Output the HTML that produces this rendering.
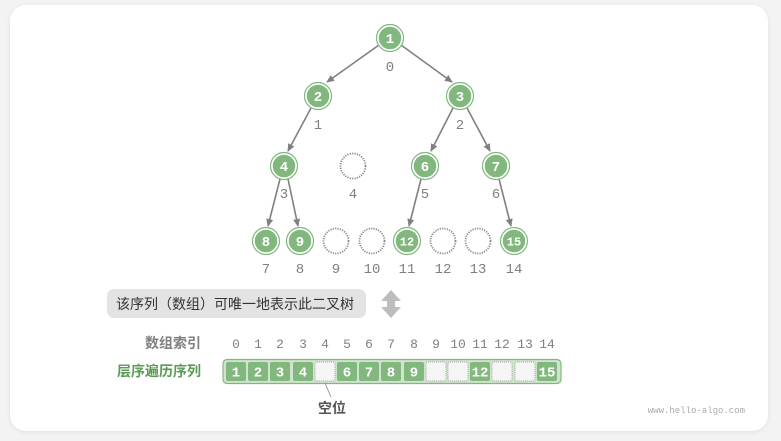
<!DOCTYPE html>
<html><head><meta charset="utf-8"><style>
html,body{margin:0;padding:0;background:#f3f3f3;}
svg{display:block;}
text{font-family:"Liberation Mono","DejaVu Sans Mono",monospace;}
.cj{font-family:"Liberation Sans","Noto Sans CJK SC",sans-serif;}
</style></head><body>
<svg width="781" height="441" viewBox="0 0 781 441" xmlns="http://www.w3.org/2000/svg">
<defs>
<marker id="ah" markerWidth="8" markerHeight="8" refX="7" refY="4" orient="auto" markerUnits="userSpaceOnUse">
<path d="M0,0.5 L8,4 L0,7.5 Z" fill="#808080"/></marker>
<filter id="sh" x="-5%" y="-5%" width="110%" height="110%"><feDropShadow dx="0" dy="1" stdDeviation="2" flood-color="#000" flood-opacity="0.08"/></filter>
</defs>
<rect x="10" y="5" width="758" height="426" rx="16" fill="#fff" filter="url(#sh)"/>
<g stroke="#808080" stroke-width="1.6" fill="none" marker-end="url(#ah)">
<line x1="379" y1="45" x2="327" y2="82"/>
<line x1="401" y1="45" x2="452" y2="82"/>
<line x1="311" y1="108" x2="288" y2="151"/>
<line x1="453" y1="108" x2="431" y2="151"/>
<line x1="467" y1="108" x2="490" y2="151"/>
<line x1="280" y1="179" x2="268" y2="226"/>
<line x1="288" y1="179" x2="298" y2="226"/>
<line x1="421" y1="179" x2="409" y2="226"/>
<line x1="499" y1="179" x2="511" y2="226"/>
</g>
<g fill="#82b87e" stroke="#fff" stroke-width="1.5">
<circle cx="390" cy="38" r="12"/><circle cx="318" cy="96" r="12"/><circle cx="460" cy="96" r="12"/>
<circle cx="284" cy="166" r="12"/><circle cx="425" cy="166" r="12"/><circle cx="496" cy="166" r="12"/>
<circle cx="266" cy="241" r="12"/><circle cx="300" cy="241" r="12"/><circle cx="407" cy="241" r="12"/><circle cx="514" cy="241" r="12"/>
</g>
<g fill="none" stroke="#82b87e" stroke-width="1.2">
<circle cx="390" cy="38" r="13.5"/><circle cx="318" cy="96" r="13.5"/><circle cx="460" cy="96" r="13.5"/>
<circle cx="284" cy="166" r="13.5"/><circle cx="425" cy="166" r="13.5"/><circle cx="496" cy="166" r="13.5"/>
<circle cx="266" cy="241" r="13.5"/><circle cx="300" cy="241" r="13.5"/><circle cx="407" cy="241" r="13.5"/><circle cx="514" cy="241" r="13.5"/>
</g>
<g fill="none" stroke="#888" stroke-width="1.8" stroke-dasharray="1.2 1.2">
<circle cx="353" cy="166" r="12.5"/><circle cx="336" cy="241" r="12.5"/><circle cx="372" cy="241" r="12.5"/><circle cx="443" cy="241" r="12.5"/><circle cx="478" cy="241" r="12.5"/>
</g>
<g font-family="Liberation Sans,sans-serif" font-size="14" font-weight="bold" fill="#fff" text-anchor="middle">
<text x="390" y="43">1</text><text x="318" y="101">2</text><text x="460" y="101">3</text>
<text x="284" y="171">4</text><text x="425" y="171">6</text><text x="496" y="171">7</text>
<text x="266" y="246">8</text><text x="300" y="246">9</text><text x="407" y="245.5" font-size="12">12</text><text x="514" y="245.5" font-size="12">15</text>
</g>
<g font-size="14" fill="#808080" text-anchor="middle">
<text x="390" y="71">0</text><text x="318" y="129">1</text><text x="460" y="129">2</text>
<text x="284" y="198">3</text><text x="353" y="198">4</text><text x="425" y="198">5</text><text x="496" y="198">6</text>
<text x="266" y="273">7</text><text x="300" y="273">8</text><text x="336" y="273">9</text><text x="372" y="273">10</text><text x="407" y="273">11</text><text x="443" y="273">12</text><text x="478" y="273">13</text><text x="514" y="273">14</text>
</g>
<rect x="107" y="289" width="259" height="29" rx="7" fill="#e3e3e3"/>
<text class="cj" x="116" y="309" font-size="14" fill="#333">该序列（数组）可唯一地表示此二叉树</text>
<path d="M391,290 L401,301 L395,301 L395,307 L401,307 L391,318 L381,307 L387,307 L387,301 L381,301 Z" fill="#bdbdbd"/>
<text class="cj" x="201" y="348" font-size="14" font-weight="bold" fill="#808080" text-anchor="end">数组索引</text>
<text class="cj" x="201" y="376" font-size="14" font-weight="bold" fill="#5a9a55" text-anchor="end">层序遍历序列</text>
<g font-size="13" fill="#808080" text-anchor="middle">
<text x="236" y="348">0</text><text x="258" y="348">1</text><text x="280" y="348">2</text><text x="303" y="348">3</text><text x="325" y="348">4</text><text x="347" y="348">5</text><text x="369" y="348">6</text><text x="391" y="348">7</text><text x="414" y="348">8</text><text x="436" y="348">9</text><text x="458" y="348">10</text><text x="480" y="348">11</text><text x="502" y="348">12</text><text x="525" y="348">13</text><text x="547" y="348">14</text>
</g>
<rect x="223" y="359.5" width="338" height="24" rx="4" fill="#cfe4cd" stroke="#82b87e" stroke-width="1.2"/>
<g fill="#82b87e">
<rect x="226" y="362" width="20" height="19" rx="2"/><rect x="248" y="362" width="20" height="19" rx="2"/><rect x="270" y="362" width="20" height="19" rx="2"/><rect x="293" y="362" width="20" height="19" rx="2"/>
<rect x="337" y="362" width="20" height="19" rx="2"/><rect x="359" y="362" width="20" height="19" rx="2"/><rect x="381" y="362" width="20" height="19" rx="2"/><rect x="404" y="362" width="20" height="19" rx="2"/>
<rect x="470" y="362" width="20" height="19" rx="2"/><rect x="537" y="362" width="20" height="19" rx="2"/>
</g>
<g fill="#f5f5f5" stroke="#aaa" stroke-width="1" stroke-dasharray="1 1">
<rect x="315" y="362" width="20" height="19" rx="2"/><rect x="426" y="362" width="20" height="19" rx="2"/><rect x="448" y="362" width="20" height="19" rx="2"/><rect x="492" y="362" width="20" height="19" rx="2"/><rect x="515" y="362" width="20" height="19" rx="2"/>
</g>
<g font-family="Liberation Sans,sans-serif" font-size="14" font-weight="bold" fill="#fff" text-anchor="middle">
<text x="236" y="376.5">1</text><text x="258" y="376.5">2</text><text x="280" y="376.5">3</text><text x="303" y="376.5">4</text><text x="347" y="376.5">6</text><text x="369" y="376.5">7</text><text x="391" y="376.5">8</text><text x="414" y="376.5">9</text><text x="480" y="376.5">12</text><text x="547" y="376.5">15</text>
</g>
<line x1="325" y1="383" x2="331" y2="397" stroke="#888" stroke-width="0.8"/>
<text class="cj" x="332" y="413" font-size="14" font-weight="bold" fill="#555" text-anchor="middle">空位</text>
<text x="745" y="413" font-size="9" fill="#aaa" text-anchor="end">www.hello-algo.com</text>
</svg>
</body></html>
